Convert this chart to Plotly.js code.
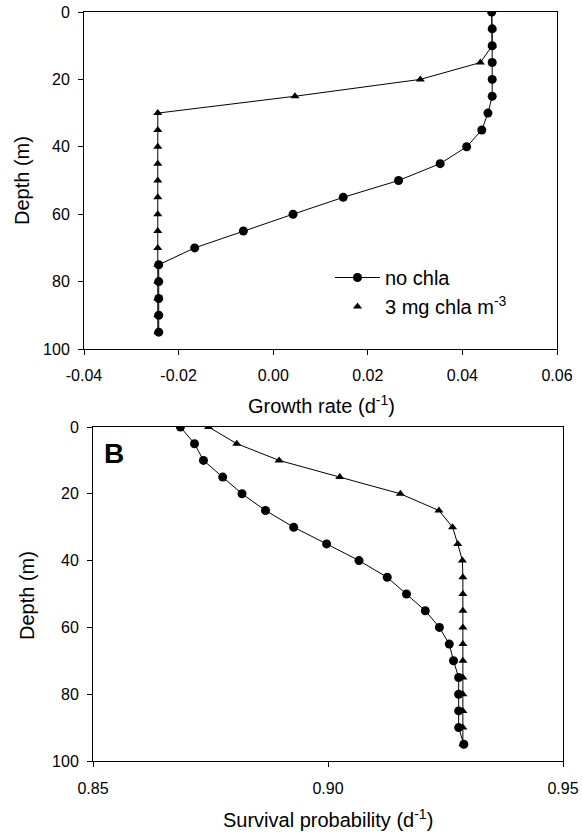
<!DOCTYPE html>
<html>
<head>
<meta charset="utf-8">
<script src="https://cdn.plot.ly/plotly-3.0.1.min.js"></script>
<style>html,body{margin:0;padding:0;background:#fff;}#chart{width:582px;height:835px;}</style>
</head>
<body>
<div id="chart"></div>
<script>
// Depths (m)
const depth = [0,5,10,15,20,25,30,35,40,45,50,55,60,65,70,75,80,85,90,95];

// Panel A: growth rate (d^-1)
const growthNoChla = [0.0462,0.0463,0.0463,0.0463,0.0463,0.0463,0.0454,0.0441,0.0409,0.0353,0.0265,0.0148,0.0042,-0.0063,-0.0166,-0.0242,-0.0242,-0.0242,-0.0242,-0.0242];
const growthChla   = [0.0462,0.0463,0.0463,0.0438,0.0311,0.0046,-0.0244,-0.0244,-0.0244,-0.0244,-0.0244,-0.0244,-0.0244,-0.0244,-0.0244,-0.0244,-0.0244,-0.0244,-0.0244,-0.0244];

// Panel B: survival probability (d^-1)
const survNoChla = [0.8686,0.8716,0.8735,0.8776,0.8817,0.8867,0.8927,0.8997,0.9066,0.9126,0.9167,0.9207,0.9237,0.9258,0.9267,0.9278,0.9278,0.9278,0.9278,0.9289];
const survChla   = [0.8746,0.8806,0.8896,0.9025,0.9154,0.9236,0.9265,0.9276,0.9286,0.9287,0.9287,0.9287,0.9287,0.9287,0.9287,0.9287,0.9287,0.9287,0.9287,0.9287];

const seriesNames = ['no chla', '3 mg chla m<sup>-3</sup>'];
const depthTicks = [0,20,40,60,80,100];
const growthTicks = [-0.04,-0.02,0.00,0.02,0.04,0.06];
const growthTickText = ['-0.04','-0.02','0.00','0.02','0.04','0.06'];
const survTicks = [0.85,0.90,0.95];
const survTickText = ['0.85','0.90','0.95'];

const FONT = 'Arial, "Liberation Sans", sans-serif';
const circ = {symbol:'circle', size:9, color:'#000'};
const tri = {symbol:'triangle-up', size:8, color:'#000'};
const ln = {color:'#000', width:1};

const traces = [
  {x:growthChla, y:depth, xaxis:'x', yaxis:'y', mode:'lines+markers', marker:tri, line:ln, showlegend:false, name:seriesNames[1]},
  {x:growthNoChla, y:depth, xaxis:'x', yaxis:'y', mode:'lines+markers', marker:circ, line:ln, showlegend:true, name:seriesNames[0]},
  {x:[null], y:[null], xaxis:'x', yaxis:'y', mode:'markers', marker:tri, showlegend:true, name:seriesNames[1]},
  {x:survChla, y:depth, xaxis:'x2', yaxis:'y2', mode:'lines+markers', marker:tri, line:ln, showlegend:false, name:seriesNames[1]},
  {x:survNoChla, y:depth, xaxis:'x2', yaxis:'y2', mode:'lines+markers', marker:circ, line:ln, showlegend:false, name:seriesNames[0]}
];

const axBase = {showgrid:false, zeroline:false, showline:true, linecolor:'#000', linewidth:1, mirror:true,
  ticks:'outside', ticklen:5, tickcolor:'#000', tickfont:{family:FONT, size:16, color:'#000'}};

const ann = (text, x, y, extra) => Object.assign({text:text, xref:'paper', yref:'paper', x:x/582, y:1-y/835,
  xanchor:'center', yanchor:'middle', showarrow:false, font:{family:FONT, size:20, color:'#000'}}, extra || {});

const layout = {
  width:582, height:835,
  margin:{l:0,r:0,t:0,b:0},
  paper_bgcolor:'#fff', plot_bgcolor:'#fff',
  font:{family:FONT, color:'#000'},
  xaxis: Object.assign({}, axBase, {domain:[84/582, 557/582], range:[-0.04,0.06], tickvals:growthTicks, ticktext:growthTickText, anchor:'y', ticklabelstandoff:7}),
  yaxis: Object.assign({}, axBase, {domain:[1-349/835, 1-12/835], range:[100,0], tickvals:depthTicks, anchor:'x', ticklabelstandoff:5}),
  xaxis2: Object.assign({}, axBase, {domain:[93/582, 563/582], range:[0.85,0.95], tickvals:survTicks, ticktext:survTickText, anchor:'y2', ticklabelstandoff:8}),
  yaxis2: Object.assign({}, axBase, {domain:[1-761/835, 1-427/835], range:[100,0], tickvals:depthTicks, anchor:'x2', ticklabelstandoff:5}),
  legend:{x:330/582, y:1-258/835, xanchor:'left', yanchor:'top', bgcolor:'rgba(0,0,0,0)', font:{family:FONT, size:20, color:'#000'}, tracegroupgap:0, itemwidth:45},
  annotations:[
    ann('Depth (m)', 22, 181, {textangle:-90}),
    ann('Growth rate (d<sup>-1</sup>)', 321, 404),
    ann('Depth (m)', 27, 596, {textangle:-90}),
    ann('Survival probability (d<sup>-1</sup>)', 328, 818),
    ann('<b>B</b>', 114, 453, {font:{family:FONT, size:28, color:'#000'}})
  ]
};

Plotly.newPlot('chart', traces, layout, {staticPlot:true});
</script>
</body>
</html>
